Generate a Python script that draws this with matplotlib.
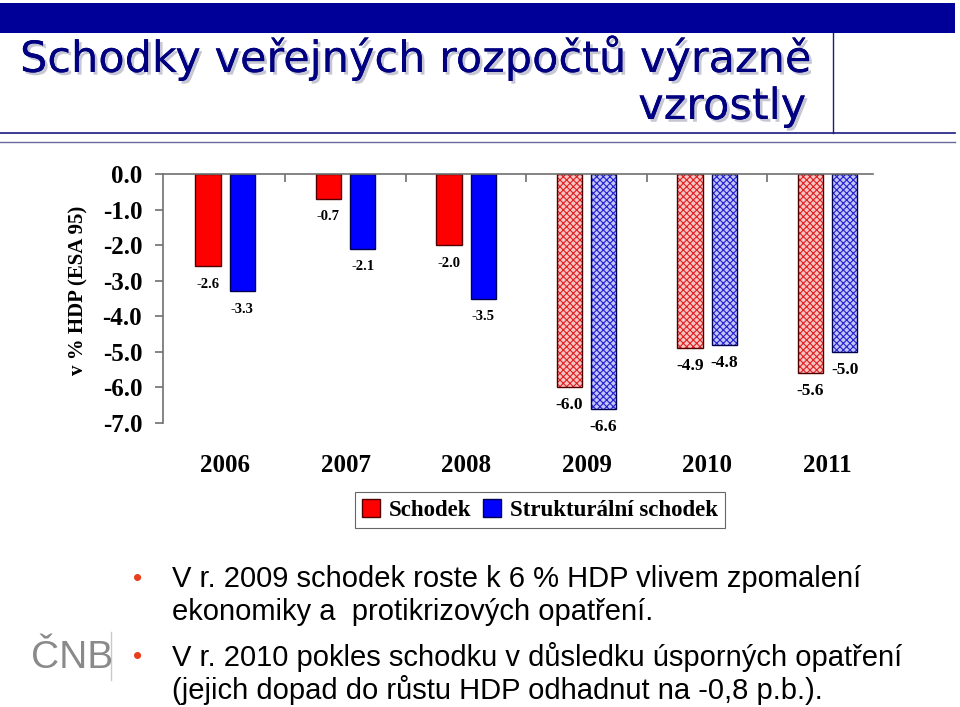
import matplotlib
matplotlib.use("Agg")
import matplotlib.pyplot as plt
import matplotlib.patheffects as pe
from matplotlib.patches import Patch, Rectangle
from matplotlib.lines import Line2D
import numpy as np

plt.rcParams['axes.unicode_minus'] = False
plt.rcParams['hatch.linewidth'] = 0.8

years = ['2006', '2007', '2008', '2009', '2010', '2011']
schodek = [-2.6, -0.7, -2.0, -6.0, -4.9, -5.6]
strukturalni = [-3.3, -2.1, -3.5, -6.6, -4.8, -5.0]
n_actual = 3  # later years drawn with pattern

title1 = "Schodky veřejných rozpočtů výrazně"
title2 = "vzrostly"
bullets = [
    ("V r. 2009 schodek roste k 6 % HDP vlivem zpomalení",
     "ekonomiky a  protikrizových opatření."),
    ("V r. 2010 pokles schodku v důsledku úsporných opatření",
     "(jejich dopad do růstu HDP odhadnut na -0,8 p.b.)."),
]

W, H = 960, 707
fig = plt.figure(figsize=(W / 100, H / 100), dpi=100)


def fx(x):
    return x / W


def fy(y):
    return 1 - y / H


# header
fig.add_artist(Rectangle((fx(0), fy(33)), fx(955), 30 / H, transform=fig.transFigure,
                         color='#000099', lw=0))
fig.add_artist(Line2D([fx(0), fx(955)], [fy(133), fy(133)], transform=fig.transFigure,
                      color='#1a1a80', lw=1.2))
fig.add_artist(Line2D([fx(0), fx(955)], [fy(142), fy(142)], transform=fig.transFigure,
                      color='#6a6a9a', lw=1.0))
fig.add_artist(Line2D([fx(833), fx(833)], [fy(33), fy(133)], transform=fig.transFigure,
                      color='#1a1a80', lw=1.0))

shadow = [pe.withSimplePatchShadow(offset=(2, -2), shadow_rgbFace='#9090a8', alpha=0.5),
          pe.Normal()]
fig.text(fx(20), fy(58), title1, fontsize=31, color='#000080', family='DejaVu Sans',
         ha='left', va='center', path_effects=shadow)
fig.text(fx(806), fy(107), title2, fontsize=31, color='#000080', family='DejaVu Sans',
         ha='right', va='center', path_effects=shadow)

# chart
ax = fig.add_axes([fx(163), fy(423), (873 - 163) / W, (423 - 174) / H])
x = np.arange(len(years))
bw = 0.21
off = 0.142

for i in range(len(years)):
    if i < n_actual:
        ax.bar(x[i] - off, schodek[i], width=bw, color='#ff0000', edgecolor='#500000', lw=1)
        ax.bar(x[i] + off, strukturalni[i], width=bw, color='#0000ff', edgecolor='#000050', lw=1)
        fs = 10.5
    else:
        ax.bar(x[i] - off, schodek[i], width=bw, color='#f8c4c4', edgecolor='#e02020',
               hatch='xxxxx', lw=0)
        ax.bar(x[i] - off, schodek[i], width=bw, fill=False, edgecolor='#500000', lw=1)
        ax.bar(x[i] + off, strukturalni[i], width=bw, color='#c4c4f8', edgecolor='#2020d0',
               hatch='xxxxx', lw=0)
        ax.bar(x[i] + off, strukturalni[i], width=bw, fill=False, edgecolor='#000050', lw=1)
        fs = 12.5
    ax.annotate('%.1f' % schodek[i], (x[i] - off, schodek[i]), xytext=(0, -18),
                textcoords='offset pixels', ha='center', va='center', fontsize=fs,
                fontweight='bold', family='Liberation Serif')
    ax.annotate('%.1f' % strukturalni[i], (x[i] + off, strukturalni[i]), xytext=(0, -18),
                textcoords='offset pixels', ha='center', va='center', fontsize=fs,
                fontweight='bold', family='Liberation Serif')

ax.set_xlim(-0.515, 5.377)
ax.set_ylim(-7, 0)
ax.set_yticks(np.arange(0, -7.5, -1))
ax.set_yticklabels(['%.1f' % v for v in np.arange(0, -7.5, -1)])
ax.set_xticks(x)
ax.set_xticklabels(years)
ax.set_xticks(x[:-1] + 0.5, minor=True)

for s in ['right', 'bottom']:
    ax.spines[s].set_visible(False)
for s in ['left', 'top']:
    ax.spines[s].set_color('#707070')
    ax.spines[s].set_linewidth(1.2)

ax.tick_params(axis='y', length=6, width=1.2, color='#707070', pad=9, labelsize=18)
ax.tick_params(axis='x', which='major', length=0, pad=22, labelsize=18)
ax.tick_params(axis='x', which='minor', top=True, bottom=False, direction='in',
               length=6, width=1.2, color='#707070')
for lab in ax.get_xticklabels() + ax.get_yticklabels():
    lab.set_family('Liberation Serif')
    lab.set_fontweight('bold')

fig.text(fx(78), fy(290), 'v % HDP (ESA 95)', rotation=90, ha='center', va='center',
         fontsize=15, fontweight='bold', family='Liberation Serif')

handles = [Patch(facecolor='#ff0000', edgecolor='#500000'),
           Patch(facecolor='#0000ff', edgecolor='#000050')]
leg = fig.legend(handles, ['Schodek', 'Strukturální schodek'], loc='center',
                 bbox_to_anchor=(fx(540), fy(510)), ncol=2, frameon=True, fancybox=False,
                 edgecolor='#404040', handlelength=0.8, handleheight=0.8, handletextpad=0.4,
                 columnspacing=0.5, borderpad=0.3,
                 prop={'family': 'Liberation Serif', 'weight': 'bold', 'size': 16.5})
leg.get_frame().set_linewidth(0.8)

# bullets
ys = [(579, 612), (657, 690)]
for (l1, l2), (y1, y2) in zip(bullets, ys):
    fig.text(fx(138), fy(y1), '•', fontsize=19, color='#e8401c', family='Liberation Sans',
             ha='center', va='center')
    fig.text(fx(172), fy(y1), l1, fontsize=21, family='Liberation Sans', ha='left', va='center')
    fig.text(fx(172), fy(y2), l2, fontsize=21, family='Liberation Sans', ha='left', va='center')

# logo
fig.text(fx(72), fy(658), 'ČNB', fontsize=28, color='#8a8a8a', family='Liberation Sans',
         ha='center', va='center')
fig.add_artist(Line2D([fx(111), fx(111)], [fy(632), fy(680)], transform=fig.transFigure,
                      color='#d0c8c8', lw=1.0))

fig.savefig('out.png', dpi=100)
